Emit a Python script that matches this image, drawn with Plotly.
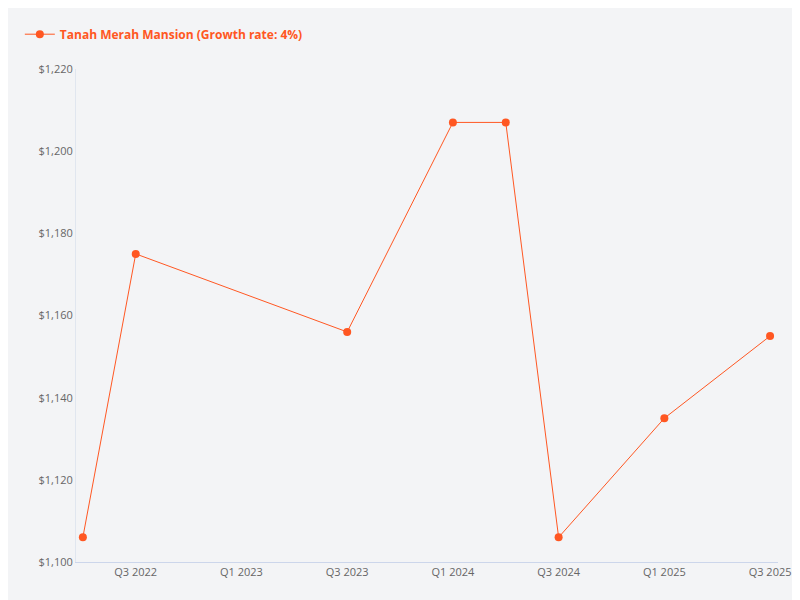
import plotly.graph_objects as go

quarters = ["Q2 2022", "Q3 2022", "Q4 2022", "Q1 2023", "Q2 2023", "Q3 2023", "Q4 2023",
            "Q1 2024", "Q2 2024", "Q3 2024", "Q4 2024", "Q1 2025", "Q2 2025", "Q3 2025"]
prices = [1106, 1175, None, None, None, 1156, None,
          1207, 1207, 1106, None, 1135, None, 1155]
tick_labels = ["Q3 2022", "Q1 2023", "Q3 2023", "Q1 2024", "Q3 2024", "Q1 2025", "Q3 2025"]

color = "#ff5722"
fig = go.Figure()
fig.add_trace(go.Scatter(
    x=quarters, y=prices, mode="lines+markers", connectgaps=True,
    name="<b>Tanah Merah Mansion (Growth rate: 4%)</b>",
    line=dict(color=color, width=1), marker=dict(color=color, size=8),
))

fig.update_layout(
    width=800, height=600,
    paper_bgcolor="#f3f4f6", plot_bgcolor="#f3f4f6",
    font=dict(family="Open Sans", size=11, color="#666"),
    margin=dict(l=52, r=30, t=42, b=46),
    showlegend=True,
    legend=dict(orientation="h", x=-0.08, y=1.1, xanchor="left", yanchor="top",
                font=dict(size=12, color=color)),
    xaxis=dict(type="category", tickvals=tick_labels, ticktext=tick_labels,
               range=[-0.13, 13.15], showgrid=False, showline=True,
               linecolor="#ccd6eb", ticks="", zeroline=False),
    yaxis=dict(range=[1100, 1220], dtick=20, tickprefix="$", tickformat=",",
               showgrid=False, showline=True, linecolor="#e0e6ef", zeroline=False),
)

fig.write_html("out.html")
